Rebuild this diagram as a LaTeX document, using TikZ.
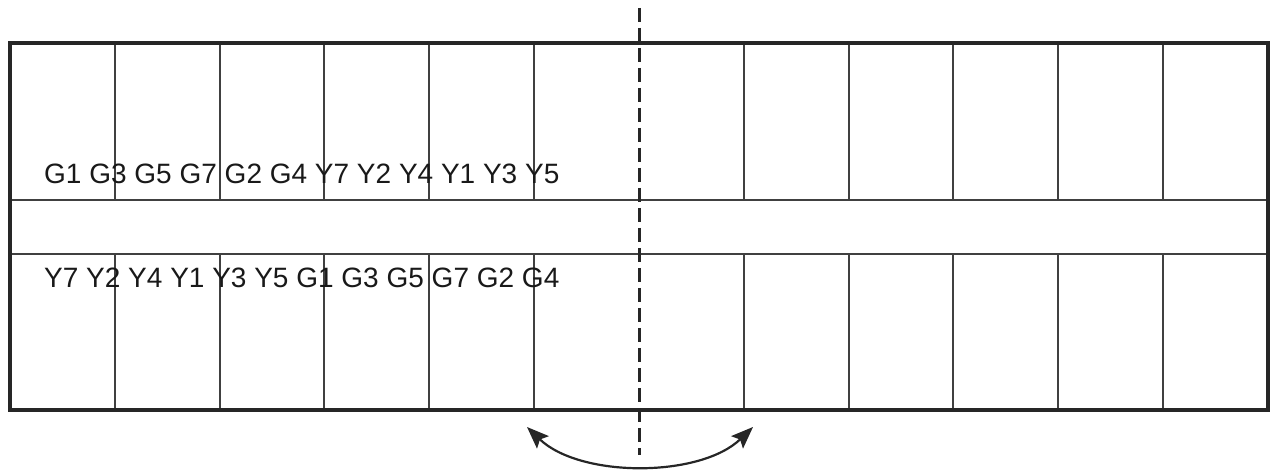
\documentclass[tikz,border=0pt]{standalone}
\usepackage{fontspec}
\setmainfont{Liberation Sans}
\usetikzlibrary{arrows.meta}
\begin{document}
\begin{tikzpicture}[x=1pt,y=-1pt,
  frame/.style={line width=3.4pt,draw=black!85},
  grid/.style={line width=2pt,draw=black!75},
  axis/.style={line width=3pt,draw=black!85,dash pattern=on 14pt off 6pt},
  lbl/.style={anchor=base west,inner sep=0pt,font=\fontsize{28}{30}\selectfont,text=black!90},
  swing/.style={line width=2.2pt,draw=black!85,{Stealth[length=22pt,width=17pt,inset=4pt]}-{Stealth[length=22pt,width=17pt,inset=4pt]}}]
\useasboundingbox (0,0) rectangle (1273,470);
% inner lines
\foreach \i in {1,...,11}{
  \ifnum\i=6\else
  \draw[grid] ({10+104.83*\i},43) -- ({10+104.83*\i},200);
  \draw[grid] ({10+104.83*\i},254) -- ({10+104.83*\i},410);
  \fi
}
\draw[grid] (10,200) -- (1268,200);
\draw[grid] (10,254) -- (1268,254);
\draw[frame] (10,43) rectangle (1268,410);
% symmetry axis
\coordinate (axtop) at (639,8);
\coordinate (axbot) at (639,455);
\draw[axis] (axtop) -- (axbot);
% labels
\node[lbl] (row1) at (44,184) {G1 G3 G5 G7 G2 G4 Y7 Y2 Y4 Y1 Y3 Y5};
\node[lbl] (row2) at (44,287) {Y7 Y2 Y4 Y1 Y3 Y5 G1 G3 G5 G7 G2 G4};
% swing arrow
\coordinate (sl) at (527,427);
\coordinate (sr) at (753,427);
\draw[swing] (sl) .. controls (580,478) and (700,478) .. (sr);
\end{tikzpicture}
\end{document}
